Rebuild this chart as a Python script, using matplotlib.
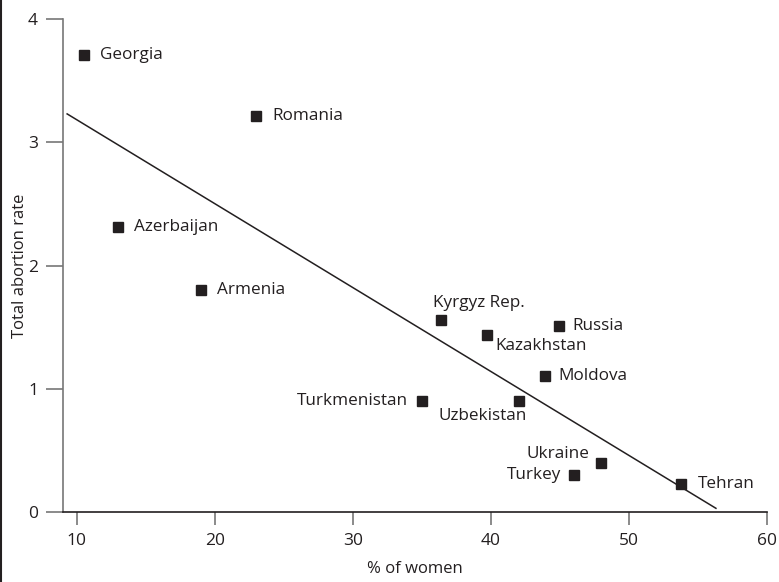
import matplotlib
matplotlib.use('Agg')
import matplotlib.pyplot as plt
from matplotlib.lines import Line2D

# valores
paises = ['Georgia', 'Romania', 'Azerbaijan', 'Armenia', 'Kyrgyz Rep.', 'Kazakhstan',
          'Russia', 'Moldova', 'Turkmenistan', 'Uzbekistan', 'Ukraine', 'Turkey', 'Tehran']
pct_mulheres = [10.5, 23.0, 13.0, 19.0, 36.4, 39.7, 44.9, 43.9, 35.0, 42.0, 48.0, 46.0, 53.8]
taxa_aborto = [3.71, 3.21, 2.31, 1.80, 1.56, 1.44, 1.51, 1.10, 0.90, 0.90, 0.40, 0.30, 0.23]

# reta de tendência (extremos)
reta_x = [9.3, 56.3]
reta_y = [3.23, 0.03]

x_ticks = [10, 20, 30, 40, 50, 60]
y_ticks = [0, 1, 2, 3, 4]

# posição do rótulo em relação ao ponto (pixels) e alinhamento
pos_rotulo = {
    'Georgia': ((16, 0), 'left', 'center'),
    'Romania': ((16, 0), 'left', 'center'),
    'Azerbaijan': ((16, 0), 'left', 'center'),
    'Armenia': ((16, 0), 'left', 'center'),
    'Kyrgyz Rep.': ((-8, 9), 'left', 'bottom'),
    'Kazakhstan': ((9, -3), 'left', 'top'),
    'Russia': ((14, 0), 'left', 'center'),
    'Moldova': ((14, 0), 'left', 'center'),
    'Turkmenistan': ((-14, 0), 'right', 'center'),
    'Uzbekistan': ((8, -7), 'right', 'top'),
    'Ukraine': ((-12, 9), 'right', 'center'),
    'Turkey': ((-12, 0), 'right', 'center'),
    'Tehran': ((16, 0), 'left', 'center'),
}

cor_texto = '#231f20'
plt.rcParams['font.family'] = ['Open Sans', 'DejaVu Sans']
plt.rcParams['font.size'] = 12

fig = plt.figure(figsize=(7.79, 5.82), dpi=100)
ax = fig.add_axes([63 / 779, 1 - 512 / 582, (767 - 63) / 779, (512 - 19) / 582])

ax.plot(reta_x, reta_y, color=cor_texto, linewidth=1.1)
ax.plot(pct_mulheres, taxa_aborto, linestyle='none', marker='s', markersize=7.8,
        color=cor_texto)

for nome, x, y in zip(paises, pct_mulheres, taxa_aborto):
    desloc, ha, va = pos_rotulo[nome]
    ax.annotate(nome, (x, y), xytext=desloc, textcoords='offset pixels',
                ha=ha, va=va, color=cor_texto, fontsize=12.3)

ax.set_xlim(9, 60)
ax.set_ylim(0, 4)
ax.set_xticks(x_ticks)
ax.set_yticks(y_ticks)

for lado in ['top', 'right']:
    ax.spines[lado].set_visible(False)
ax.spines['left'].set_color('#777777')
ax.spines['bottom'].set_color(cor_texto)
ax.spines['left'].set_linewidth(1.2)
ax.spines['bottom'].set_linewidth(1.2)

ax.tick_params(axis='y', direction='out', length=12, width=1.2, color='#777777',
               labelsize=12.5, labelcolor=cor_texto, pad=6)
ax.tick_params(axis='x', direction='out', length=9, width=1.2, color='#777777',
               labelsize=12.5, labelcolor=cor_texto, pad=6)

ax.set_xlabel('% of women', color=cor_texto, fontsize=12, labelpad=9)
ax.set_ylabel('Total abortion rate', color=cor_texto, fontsize=12, labelpad=0)

# borda à esquerda da figura
fig.add_artist(Line2D([0.001, 0.001], [0, 1], transform=fig.transFigure,
                      color=cor_texto, linewidth=1.5))

fig.savefig('out.png', dpi=100)
